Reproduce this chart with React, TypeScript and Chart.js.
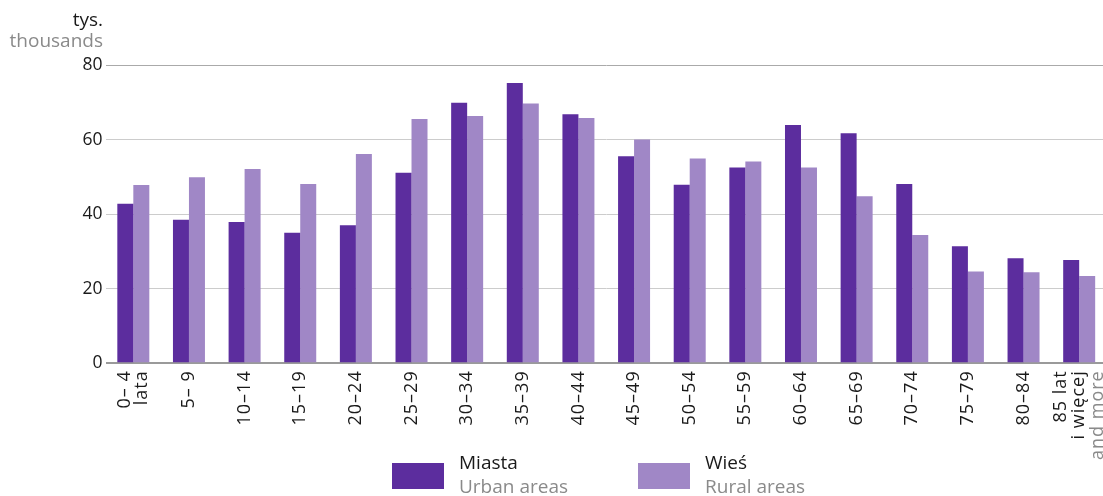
import React, { useEffect, useRef } from "react";
import { Chart, registerables } from "chart.js";

Chart.register(...registerables);

const categories: string[][] = [
  ["0– 4", "lata"],
  ["5– 9"],
  ["10–14"],
  ["15–19"],
  ["20–24"],
  ["25–29"],
  ["30–34"],
  ["35–39"],
  ["40–44"],
  ["45–49"],
  ["50–54"],
  ["55–59"],
  ["60–64"],
  ["65–69"],
  ["70–74"],
  ["75–79"],
  ["80–84"],
  ["85 lat", "i więcej"],
];
const categoriesEnglish: string[] = [
  "", "", "", "", "", "", "", "", "", "", "", "", "", "", "", "", "", "and more",
];

const urban = [42.8, 38.5, 37.9, 35.0, 37.0, 51.1, 69.9, 75.2, 66.8, 55.5, 47.9, 52.5, 63.9, 61.7, 48.1, 31.4, 28.2, 27.7];
const rural = [47.8, 49.9, 52.1, 48.1, 56.1, 65.5, 66.3, 69.7, 65.8, 60.0, 54.9, 54.1, 52.5, 44.8, 34.4, 24.6, 24.4, 23.4];

const yTicks = [0, 20, 40, 60, 80];
const seriesPolish = ["Miasta", "Wieś"];
const seriesEnglish = ["Urban areas", "Rural areas"];
const unitPolish = "tys.";
const unitEnglish = "thousands";

const FONT = "'Open Sans', 'Noto Sans', sans-serif";
const BLACK = "#1a1a1a";
const GRAY = "#8a8a8a";
const URBAN = "#5c2d9e";
const RURAL = "#a087c6";

const textPlugin = {
  id: "textPlugin",
  afterDraw(chart: any) {
    const ctx = chart.ctx as CanvasRenderingContext2D;
    const xs = chart.scales.x;
    const area = chart.chartArea;
    ctx.save();
    // x labels (rotated, multi-coloured lines)
    ctx.font = `18px ${FONT}`;
    categories.forEach((lines, i) => {
      const all = lines.map((t) => ({ t, c: BLACK }));
      if (categoriesEnglish[i]) all.push({ t: categoriesEnglish[i], c: GRAY });
      const px = xs.getPixelForTick(i);
      const lh = all.length > 2 ? 18.5 : 16.5;
      ctx.save();
      (ctx as any).letterSpacing = "1px";
      ctx.translate(px, area.bottom + 7);
      ctx.rotate(-Math.PI / 2);
      ctx.textAlign = "right";
      ctx.textBaseline = "middle";
      all.forEach((l, k) => {
        ctx.fillStyle = l.c;
        ctx.fillText(l.t, 0, (k - (all.length - 1) / 2) * lh);
      });
      ctx.restore();
    });
    // unit title
    ctx.font = `19px ${FONT}`;
    ctx.textAlign = "right";
    ctx.textBaseline = "alphabetic";
    ctx.fillStyle = BLACK;
    ctx.fillText(unitPolish, 103, 26);
    ctx.fillStyle = GRAY;
    ctx.fillText(unitEnglish, 103, 47);
    // legend
    const legendX = [392, 638];
    chart.data.datasets.forEach((ds: any, i: number) => {
      const bx = legendX[i];
      ctx.fillStyle = ds.backgroundColor;
      ctx.fillRect(bx, 463, 52, 26);
      ctx.textAlign = "left";
      ctx.font = `19px ${FONT}`;
      ctx.fillStyle = BLACK;
      ctx.fillText(seriesPolish[i], bx + 67, 469);
      ctx.fillStyle = GRAY;
      ctx.fillText(seriesEnglish[i], bx + 67, 493);
    });
    ctx.restore();
  },
};

export default function App() {
  const ref = useRef<HTMLCanvasElement | null>(null);
  useEffect(() => {
    document.body.style.margin = "0";
    let chart: Chart | null = null;
    let cancelled = false;
    const make = () => {
      if (cancelled || !ref.current) return;
      chart = new Chart(ref.current, {
        type: "bar",
        data: {
          labels: categories.map((c) => c.join(" ")),
          datasets: [
            { label: seriesPolish[0], data: urban, backgroundColor: URBAN, categoryPercentage: 0.575, barPercentage: 1 },
            { label: seriesPolish[1], data: rural, backgroundColor: RURAL, categoryPercentage: 0.575, barPercentage: 1 },
          ],
        },
        options: {
          responsive: false,
          animation: false,
          layout: { padding: { top: 65, right: 0, left: 0, bottom: 0 } },
          plugins: { legend: { display: false }, tooltip: { enabled: false } },
          scales: {
            x: {
              grid: { display: false },
              border: { display: false },
              ticks: { display: false },
              afterFit: (s: any) => {
                s.height = 132.7;
              },
            },
            y: {
              min: 0,
              max: 80,
              afterBuildTicks: (s: any) => {
                s.ticks = yTicks.map((v) => ({ value: v }));
              },
              afterFit: (s: any) => {
                s.width = 105.5;
              },
              border: { display: false },
              grid: {
                drawTicks: false,
                color: (c: any) => (c.tick && c.tick.value === 0 ? "#9a9a9a" : c.tick && c.tick.value === 80 ? "#aaaaaa" : "#cccccc"),
                lineWidth: (c: any) => (c.tick && c.tick.value === 0 ? 2 : 1),
              },
              ticks: {
                padding: 3,
                color: BLACK,
                font: { family: FONT, size: 17.5 },
              },
            },
          },
        },
        plugins: [textPlugin],
      });
    };
    const fonts = (document as any).fonts;
    if (fonts && fonts.load) {
      Promise.all([fonts.load(`17px 'Open Sans'`), fonts.load(`19px 'Open Sans'`)]).then(make, make);
    } else make();
    return () => {
      cancelled = true;
      if (chart) chart.destroy();
    };
  }, []);
  return (
    <div style={{ width: 1103, height: 496, overflow: "hidden", position: "relative" }}>
      <canvas ref={ref} width={1107} height={496} style={{ display: "block" }} />
    </div>
  );
}
